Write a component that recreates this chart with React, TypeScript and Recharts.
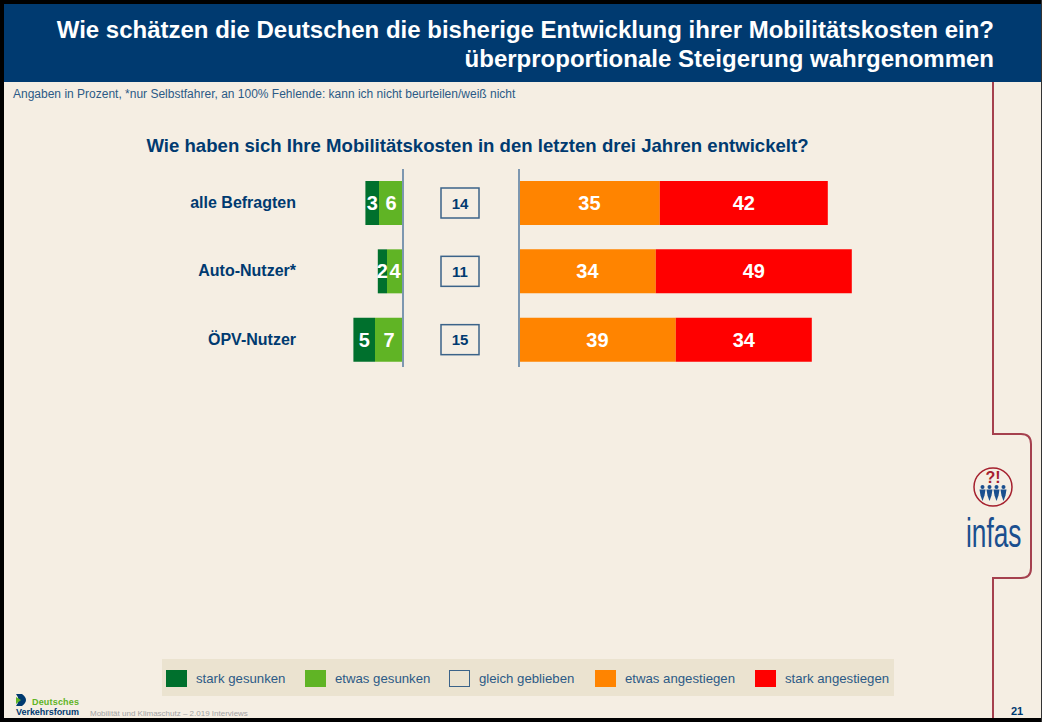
import { BarChart, Bar, XAxis, YAxis, ReferenceLine, LabelList, Legend } from "recharts";

const NAVY = "#003a70";
const RED_LINE = "#a5404e";
const PAGE = "#f5eee3";

const categories = ["alle Befragten", "Auto-Nutzer*", "ÖPV-Nutzer"];
const starkGesunken = [3.4, 2.3, 5.4];
const etwasGesunken = [6, 4, 7];
const gleichGeblieben = [14, 11, 15];
const etwasAngestiegen = [35.2, 34.2, 39.2];
const starkAngestiegen = [42, 49, 34];

const legendNames = ["stark gesunken", "etwas gesunken", "gleich geblieben", "etwas angestiegen", "stark angestiegen"];
const legendColors = ["#00702d", "#60b425", "#ebe3d0", "#ff8400", "#ff0000"];
const legendOffsets = [4, 143, 287, 433, 593];

// room between the two stacks that holds the "gleich" boxes
const GAP = 29;

const data = categories.map((name, i) => ({
  name,
  starkGesunken: -starkGesunken[i],
  etwasGesunken: -etwasGesunken[i],
  gleich: gleichGeblieben[i],
  gap: GAP,
  etwasAngestiegen: etwasAngestiegen[i],
  starkAngestiegen: starkAngestiegen[i],
}));

const fmt = (v: any) => Math.round(Math.abs(Number(v)));

const GleichBox = (props: any) => {
  const { x, y, width, height, payload } = props;
  const cx = x + width / 2 - 1;
  const cy = y + height / 2;
  return (
    <g>
      <rect x={cx - 19} y={cy - 15} width={38} height={30} fill="none" stroke="#3b6389" strokeWidth={1.5} />
      <text x={cx} y={cy + 5.5} textAnchor="middle" fontSize={15} fontWeight="bold" fill={NAVY} fontFamily="Liberation Sans">
        {payload.gleich}
      </text>
    </g>
  );
};

// the band runs a little below the divider lines, so cut them short
const Divider = (props: any) => (
  <line x1={props.x1} x2={props.x2} y1={169} y2={367} stroke="#7d97b0" strokeWidth={2} />
);

const LegendBand = () => (
  <div style={{ position: "relative", width: 732, height: 37, background: "#ebe3d0" }}>
    {legendNames.map((name, i) => (
      <div key={name} style={{ position: "absolute", left: legendOffsets[i], top: 11 }}>
        <div
          style={{
            position: "absolute",
            left: 0,
            top: 0,
            width: 21,
            height: 17,
            boxSizing: "border-box",
            background: legendColors[i],
            border: i === 2 ? "1.5px solid #3b6389" : "none",
          }}
        />
        <div style={{ position: "absolute", left: 30, top: 1, whiteSpace: "nowrap", fontSize: 13.2, color: "#2b5a86" }}>{name}</div>
      </div>
    ))}
  </div>
);

const Person = ({ x }: { x: number }) => (
  <g fill="#1a4f8f">
    <circle cx={x} cy={487} r={2} />
    <path d={`M${x - 3} 489.5 h6 l-1 6 l-2 5.5 l-2 -5.5 z`} />
  </g>
);

const Logo = () => (
  <svg width={1042} height={722} style={{ position: "absolute", left: 0, top: 0 }}>
    <path
      d="M993 82 V434 H1021 Q1031 434 1031 444 V568 Q1031 578 1021 578 H993 V718"
      fill="none"
      stroke={RED_LINE}
      strokeWidth={2}
    />
    <circle cx={993} cy={487} r={19} fill={PAGE} stroke="#a5202e" strokeWidth={1.5} />
    <text x={993} y={483} textAnchor="middle" fontSize={16} fontWeight="bold" fill="#a5202e" fontFamily="Liberation Sans">?!</text>
    <Person x={982.5} />
    <Person x={989.5} />
    <Person x={996.5} />
    <Person x={1003.5} />
    <text transform="translate(966 547) scale(0.64 1)" fontSize={41} fill="#1a4f8f" fontFamily="Liberation Sans">infas</text>
    <path d="M16 694 h6 q8 6 0 12 h-6 q5 -6 0 -12 z" fill={NAVY} />
    <path d="M16 697 l5 3 l-5 4 z" fill="#60b425" />
    <text x={32} y={705} fontSize={9} fontWeight="bold" fill="#60b425" fontFamily="Liberation Sans" textLength={47}>Deutsches</text>
    <text x={16} y={715} fontSize={9} fontWeight="bold" fill={NAVY} fontFamily="Liberation Sans" textLength={63}>Verkehrsforum</text>
    <text x={90} y={716} fontSize={8} fill="#a3a3a3" fontFamily="Liberation Sans">Mobilität und Klimaschutz – 2.019 Interviews</text>
    <text x={1017} y={715} textAnchor="middle" fontSize={11} fontWeight="bold" fill={NAVY} fontFamily="Liberation Sans">21</text>
  </svg>
);

export default function App() {
  return (
    <div
      style={{
        position: "absolute",
        left: 0,
        top: 0,
        width: 1042,
        height: 722,
        overflow: "hidden",
        background: PAGE,
        fontFamily: "Liberation Sans",
      }}
    >
      <div style={{ position: "absolute", left: 0, top: 0, width: 1042, height: 4, background: "#000" }} />
      <div style={{ position: "absolute", left: 0, top: 0, width: 4, height: 722, background: "#000" }} />
      <div style={{ position: "absolute", left: 0, top: 718, width: 1042, height: 4, background: "#000" }} />
      <div style={{ position: "absolute", left: 1041, top: 0, width: 1, height: 722, background: "#333" }} />
      <div style={{ position: "absolute", left: 4, top: 4, width: 1037, height: 78, background: NAVY }} />
      <div
        style={{
          position: "absolute",
          right: 48,
          top: 15,
          width: 980,
          textAlign: "right",
          color: "#fff",
          fontWeight: "bold",
          fontSize: 24,
          lineHeight: "29px",
        }}
      >
        Wie schätzen die Deutschen die bisherige Entwicklung ihrer Mobilitätskosten ein?
        <br />
        überproportionale Steigerung wahrgenommen
      </div>
      <div style={{ position: "absolute", left: 13, top: 87, fontSize: 12, color: "#2b5a86" }}>
        Angaben in Prozent, *nur Selbstfahrer, an 100% Fehlende: kann ich nicht beurteilen/weiß nicht
      </div>
      <div
        style={{
          position: "absolute",
          left: 0,
          width: 955,
          top: 135,
          textAlign: "center",
          fontSize: 18.6,
          fontWeight: "bold",
          color: NAVY,
        }}
      >
        Wie haben sich Ihre Mobilitätskosten in den letzten drei Jahren entwickelt?
      </div>
      <Logo />
      <div style={{ position: "absolute", left: 0, top: 0 }}>
        <BarChart
          width={1042}
          height={722}
          data={data}
          layout="vertical"
          stackOffset="sign"
          barSize={44}
          margin={{ top: 169, bottom: 311, left: 100, right: 159 }}
        >
          <XAxis type="number" hide domain={[-15, 120]} />
          <YAxis
            type="category"
            dataKey="name"
            width={243}
            axisLine={false}
            tickLine={false}
            tickSize={0}
            tickMargin={47}
            tick={{ fill: NAVY, fontSize: 16, fontWeight: "bold", fontFamily: "Liberation Sans", dy: -1 }}
          />
          <Legend
            content={<LegendBand />}
            wrapperStyle={{ position: "absolute", left: 162, top: 659, width: 732, height: 37 }}
          />
          <Bar dataKey="etwasGesunken" name="etwas gesunken" stackId="a" fill={legendColors[1]} isAnimationActive={false}>
            <LabelList dataKey="etwasGesunken" position="center" formatter={fmt} fill="#fff" fontSize={20} fontWeight="bold" fontFamily="Liberation Sans" />
          </Bar>
          <Bar dataKey="starkGesunken" name="stark gesunken" stackId="a" fill={legendColors[0]} isAnimationActive={false}>
            <LabelList dataKey="starkGesunken" position="center" formatter={fmt} fill="#fff" fontSize={20} fontWeight="bold" fontFamily="Liberation Sans" />
          </Bar>
          <Bar dataKey="gap" name="gleich geblieben" stackId="a" fill="none" shape={<GleichBox />} isAnimationActive={false} />
          <Bar dataKey="etwasAngestiegen" name="etwas angestiegen" stackId="a" fill={legendColors[3]} isAnimationActive={false}>
            <LabelList dataKey="etwasAngestiegen" position="center" formatter={fmt} fill="#fff" fontSize={20} fontWeight="bold" fontFamily="Liberation Sans" />
          </Bar>
          <Bar dataKey="starkAngestiegen" name="stark angestiegen" stackId="a" fill={legendColors[4]} isAnimationActive={false}>
            <LabelList dataKey="starkAngestiegen" position="center" formatter={fmt} fill="#fff" fontSize={20} fontWeight="bold" fontFamily="Liberation Sans" />
          </Bar>
          <ReferenceLine x={0} shape={<Divider />} />
          <ReferenceLine x={GAP} shape={<Divider />} />
        </BarChart>
      </div>
    </div>
  );
}
